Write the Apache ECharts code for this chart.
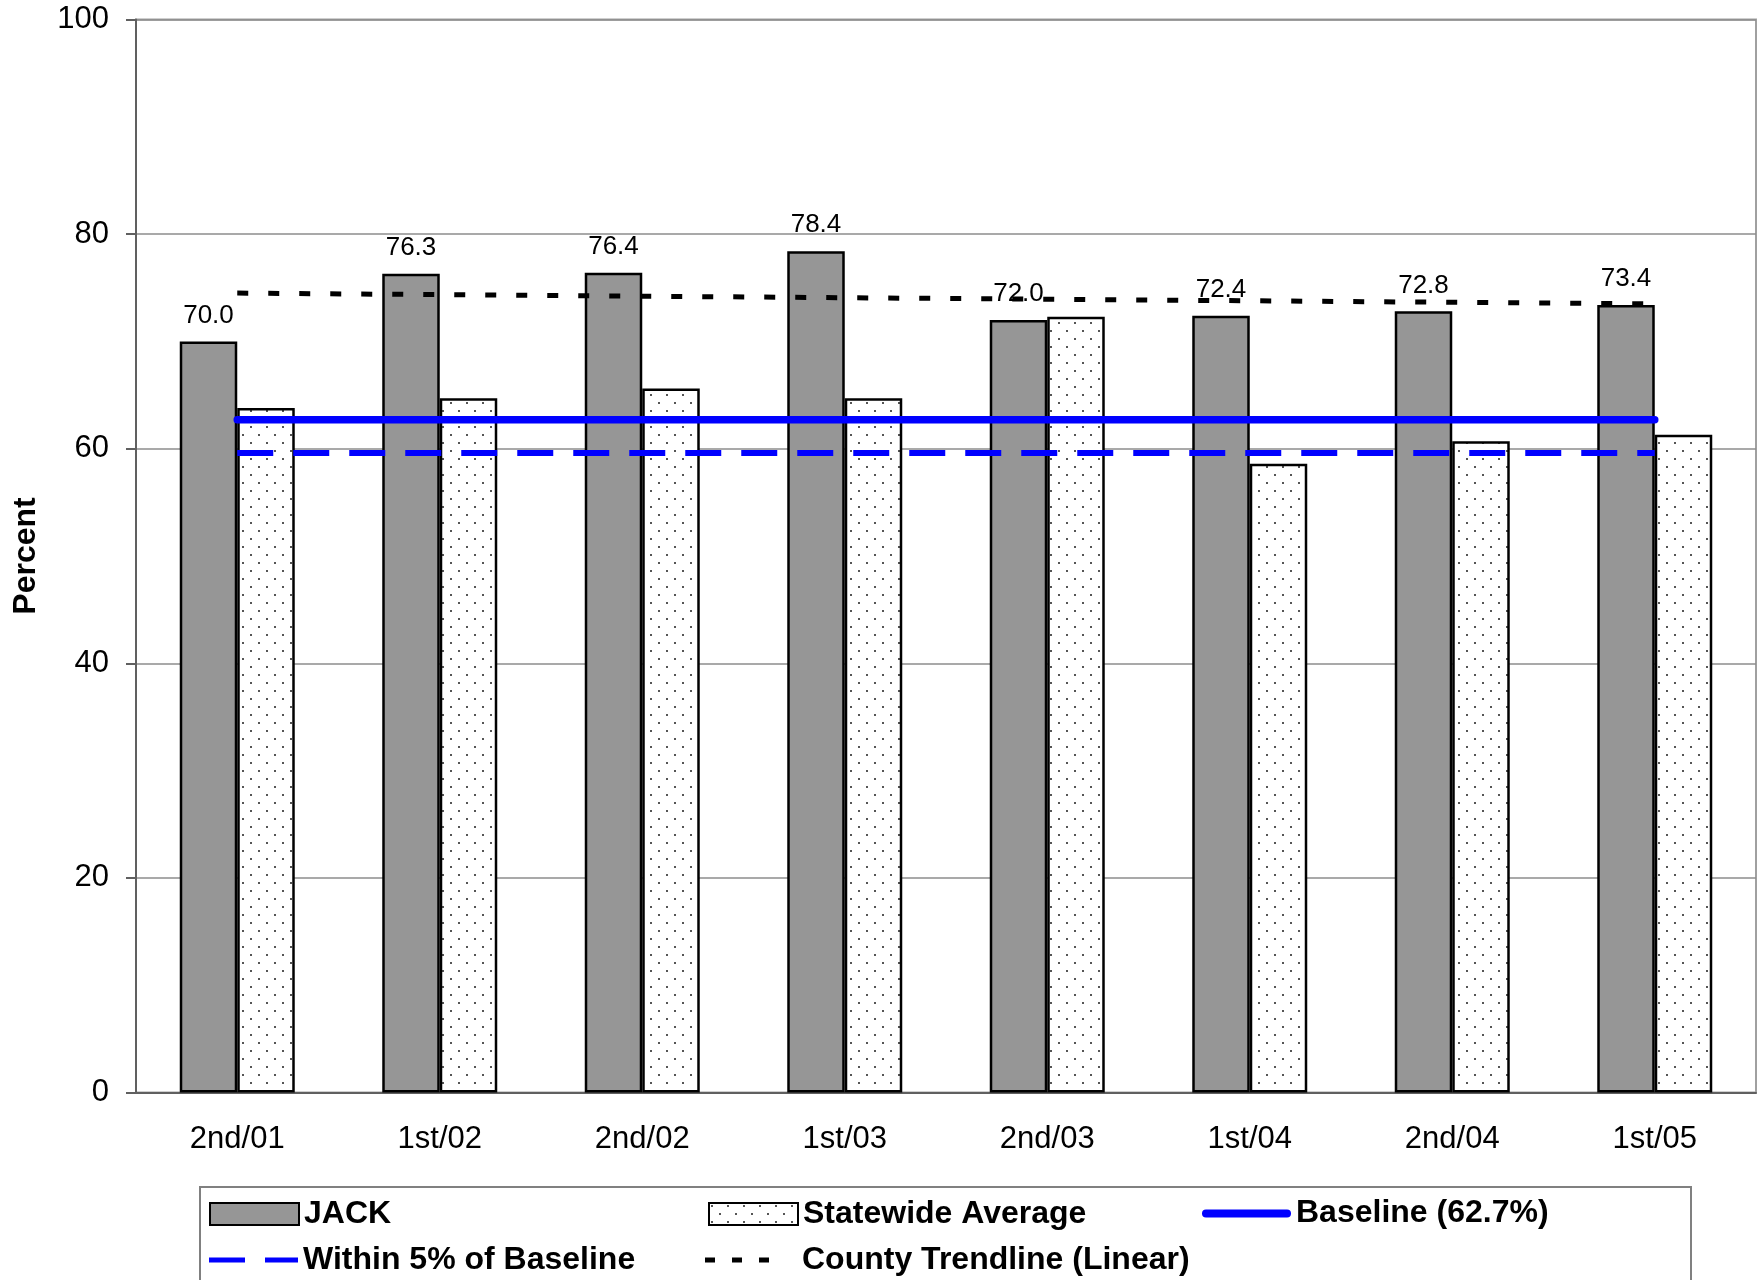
<!DOCTYPE html>
<html><head><meta charset="utf-8">
<script src="https://cdn.jsdelivr.net/npm/echarts@6/dist/echarts.min.js"></script>
<style>html,body{margin:0;padding:0;background:#fff}#c{width:1764px;height:1280px}</style>
</head><body><div id="c"></div><script>
const categories = ['2nd/01','1st/02','2nd/02','1st/03','2nd/03','1st/04','2nd/04','1st/05'];
const jackValues = [70.0, 76.3, 76.4, 78.4, 72.0, 72.4, 72.8, 73.4];
const statewideValues = [63.8, 64.7, 65.6, 64.7, 72.3, 58.6, 60.7, 61.3];
const baselineValues = [62.7, 62.7, 62.7, 62.7, 62.7, 62.7, 62.7, 62.7];
const within5Values = [59.6, 59.6, 59.6, 59.6, 59.6, 59.6, 59.6, 59.6];
const trendValues = [74.5, null, null, null, null, null, null, 73.5];
const yMin = 0, yMax = 100, yInterval = 20;

const FONT = "'Liberation Sans', Arial, sans-serif";

// dotted pattern
const pc = document.createElement('canvas');
pc.width = 16; pc.height = 16;
const g = pc.getContext('2d');
g.fillStyle = '#fff'; g.fillRect(0,0,16,16);
g.fillStyle = '#555';
g.fillRect(2,2,2,2); g.fillRect(10,10,2,2);

const chart = echarts.init(document.getElementById('c'), null, {renderer:'canvas'});
const legendBase = {
  orient:'horizontal', padding:0, itemGap:0, itemWidth:89, itemHeight:22, selectedMode:false,
  textStyle:{fontSize:32, fontWeight:'bold', color:'#000', fontFamily:FONT}
};
chart.setOption({
  animation:false,
  backgroundColor:'#fff',
  textStyle:{fontFamily:FONT},
  grid:{left:136, right:8, top:19.5, bottom:187.5, show:true, borderColor:'#a0a0a0', borderWidth:2},
  graphic:[{type:'rect', z:-1, shape:{x:200, y:1187, width:1491, height:200}, style:{fill:'none', stroke:'#808080', lineWidth:2}}],
  legend:[
    Object.assign({}, legendBase, {left:209, top:1198, data:[{name:'JACK', icon:'rect'}]}),
    Object.assign({}, legendBase, {left:708, top:1198, data:[{name:'Statewide Average', icon:'rect'}]}),
    Object.assign({}, legendBase, {left:1202, top:1197.5, itemHeight:8,
      data:[{name:'Baseline (62.7%)', icon:'path://M4,0H85A4,4 0 0 1 85,8H4A4,4 0 0 1 4,0Z', itemStyle:{color:'#0000ff', borderWidth:0}}]}),
    Object.assign({}, legendBase, {left:209, top:1244, itemHeight:5,
      data:[{name:'Within 5% of Baseline', icon:'path://M0,0H36V5H0Z M56,0H89V5H56Z', itemStyle:{color:'#0000ff', borderWidth:0}}]}),
    Object.assign({}, legendBase, {left:705, top:1244, itemWidth:64, itemHeight:5,
      textStyle:Object.assign({}, legendBase.textStyle, {padding:[0,0,0,28]}),
      data:[{name:'County Trendline (Linear)', icon:'path://M0,0H10V5H0Z M27,0H37V5H27Z M54,0H64V5H54Z', itemStyle:{color:'#000', borderWidth:0}}]})
  ],
  xAxis:{
    type:'category', data:categories,
    axisLine:{lineStyle:{color:'#606060', width:2}},
    axisTick:{length:10, lineStyle:{color:'#606060', width:2}},
    axisLabel:{fontSize:31, margin:31, color:'#000', fontFamily:FONT}
  },
  yAxis:{
    type:'value', min:yMin, max:yMax, interval:yInterval,
    name:'Percent', nameLocation:'middle', nameGap:94,
    nameTextStyle:{fontSize:32, fontWeight:'bold', color:'#000', fontFamily:FONT},
    axisLine:{show:true, lineStyle:{color:'#606060', width:2}},
    axisTick:{show:true, length:10, lineStyle:{color:'#606060', width:2}},
    axisLabel:{fontSize:31, margin:27, color:'#000', fontFamily:FONT},
    splitLine:{lineStyle:{color:'#8c8c8c', width:1.5}}
  },
  series:[
    {name:'JACK', type:'bar', data:jackValues, barWidth:57.5, barGap:'0%',
     itemStyle:{color:'#969696', borderColor:'#000', borderWidth:2.5},
     label:{show:true, position:'top', distance:13, fontSize:26, color:'#000', fontFamily:FONT,
            formatter:p=>p.value.toFixed(1)}},
    {name:'Statewide Average', type:'bar', data:statewideValues, barWidth:57.5, barGap:'0%',
     itemStyle:{color:{image:pc, repeat:'repeat'}, borderColor:'#000', borderWidth:2.5}},
    {name:'Baseline (62.7%)', type:'line', data:baselineValues, symbol:'none', z:4,
     lineStyle:{color:'#0000ff', width:7.5, cap:'round'}, itemStyle:{color:'#0000ff'}},
    {name:'Within 5% of Baseline', type:'line', data:within5Values, symbol:'none', z:4,
     lineStyle:{color:'#0000ff', width:6, type:[36,20]}, itemStyle:{color:'#0000ff'}},
    {name:'County Trendline (Linear)', type:'line', data:trendValues, symbol:'none', z:4, connectNulls:true,
     lineStyle:{color:'#000', width:5, type:[11,20]}, itemStyle:{color:'#000'}}
  ]
});
</script></body></html>
